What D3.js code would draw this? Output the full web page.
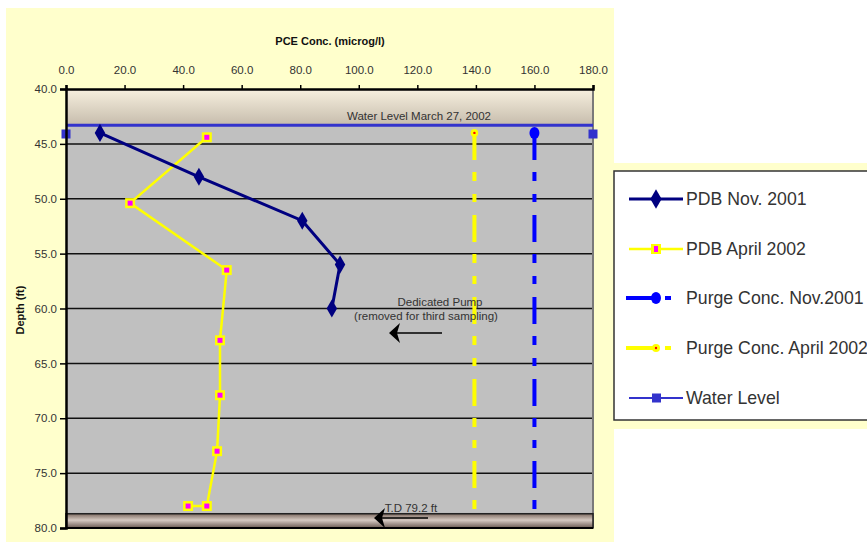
<!DOCTYPE html>
<html lang="en">
  <head>
    <meta charset="UTF-8">
    <script src="https://d3js.org/d3.v7.min.js"></script>
    <style>
      html,body{
        width:100%;
        height:100%;
        margin: 0px;
        background:#fff;
      }
      svg{display:block;}
      .narrow{font-family:"Liberation Sans Narrow","Arial Narrow","Liberation Sans",Arial,sans-serif;}
    </style>
  </head>
  <body>
    <svg id="chart" width="867" height="542"></svg>
  </body>
</html>
<script>
// PDB Nov. 2001
var depthNov = [44.0, 48.0, 52.0, 56.0, 60.0];
var pdbNov = [11.6, 45.4, 80.7, 93.6, 90.8];
// PDB April 2002
var depthApr = [44.4, 50.4, 56.5, 62.9, 67.9, 73.0, 78.0, 78.0];
var pdbApr = [48.1, 21.9, 54.9, 52.6, 52.6, 51.6, 48.1, 41.7];
// purge samples (one value, drawn down the well)
var purgeDepth = [44.0, 79.2];
var purgeNov = [160.0, 160.0];
var purgeApr = [139.5, 139.5];
// water level series
var waterX = [0.0, 180.0];
var waterDepth = [44.1, 44.1];
var waterLevelLine = 43.3;   // March 27, 2002
var tdTop = 78.7;

var xTicks = [0, 20, 40, 60, 80, 100, 120, 140, 160, 180];
var yTicks = [40, 45, 50, 55, 60, 65, 70, 75, 80];
var legendLabels = ["PDB Nov. 2001", "PDB April 2002", "Purge Conc. Nov.2001", "Purge Conc. April 2002", "Water Level"];

var svg = d3.select("#chart");
var x = d3.scaleLinear().domain([0, 180]).range([66, 593]);
var y = d3.scaleLinear().domain([40, 80]).range([89, 528]);

var dashPurge = "27,12,9,13,8,13";

// chart area background
svg.append("rect").attr("x", 6).attr("y", 8).attr("width", 608).attr("height", 534).attr("fill", "#ffffcc");
svg.append("rect").attr("x", 614).attr("y", 163).attr("width", 253).attr("height", 266).attr("fill", "#ffffcc");

var defs = svg.append("defs");
var g1 = defs.append("linearGradient").attr("id", "topband").attr("x1", 0).attr("y1", 0).attr("x2", 0).attr("y2", 1);
g1.append("stop").attr("offset", "0%").attr("stop-color", "#f7f0df");
g1.append("stop").attr("offset", "100%").attr("stop-color", "#c6bcac");
var g2 = defs.append("linearGradient").attr("id", "botband").attr("x1", 0).attr("y1", 0).attr("x2", 0).attr("y2", 1);
g2.append("stop").attr("offset", "0%").attr("stop-color", "#7d6a60");
g2.append("stop").attr("offset", "45%").attr("stop-color", "#d6cac2");
g2.append("stop").attr("offset", "100%").attr("stop-color", "#6b5a52");

// plot area
svg.append("rect").attr("x", x(0)).attr("y", y(40)).attr("width", x(180) - x(0)).attr("height", y(80) - y(40)).attr("fill", "#c0c0c0");
svg.append("rect").attr("x", x(0)).attr("y", y(40)).attr("width", x(180) - x(0)).attr("height", y(waterLevelLine) - y(40)).attr("fill", "url(#topband)");

// gridlines
svg.selectAll(".grid").data(yTicks.slice(1, -1)).enter().append("line")
  .attr("x1", x(0)).attr("x2", x(180)).attr("y1", function(d){return y(d);}).attr("y2", function(d){return y(d);})
  .attr("stroke", "#111").attr("stroke-width", 1.5);

// right border
svg.append("line").attr("x1", x(180)).attr("x2", x(180)).attr("y1", y(40)).attr("y2", y(80)).attr("stroke", "#7a7a7a").attr("stroke-width", 2);

// water level line
svg.append("line").attr("x1", x(0)).attr("x2", x(180)).attr("y1", y(waterLevelLine)).attr("y2", y(waterLevelLine))
  .attr("stroke", "#3333cc").attr("stroke-width", 3);
svg.append("text").attr("class", "narrow").attr("x", 419).attr("y", 120).attr("text-anchor", "middle")
  .attr("font-size", 11.5).attr("fill", "#333").text("Water Level March 27, 2002");

var line = d3.line().x(function(d){return x(d[0]);}).y(function(d){return y(d[1]);});

// purge lines
var pNov = d3.zip(purgeNov, purgeDepth), pApr = d3.zip(purgeApr, purgeDepth);
svg.append("path").attr("d", line(pApr)).attr("fill", "none").attr("stroke", "#ffff00").attr("stroke-width", 4).attr("stroke-dasharray", dashPurge);
svg.append("path").attr("d", line(pNov)).attr("fill", "none").attr("stroke", "#0000ff").attr("stroke-width", 4).attr("stroke-dasharray", dashPurge);
svg.selectAll(".pAprM").data(pApr).enter().append("circle")
  .attr("cx", function(d){return x(d[0]);}).attr("cy", function(d){return y(d[1]);}).attr("r", 3.8).attr("fill", "#ffff00");
svg.selectAll(".pAprD").data(pApr).enter().append("circle")
  .attr("cx", function(d){return x(d[0]);}).attr("cy", function(d){return y(d[1]);}).attr("r", 1.2).attr("fill", "#ff0000");
svg.selectAll(".pNovM").data(pNov).enter().append("ellipse")
  .attr("cx", function(d){return x(d[0]);}).attr("cy", function(d){return y(d[1]);}).attr("rx", 5).attr("ry", 6).attr("fill", "#0000ff");

// PDB April 2002
var apr = d3.zip(pdbApr, depthApr);
svg.append("path").attr("d", line(apr)).attr("fill", "none").attr("stroke", "#ffff00").attr("stroke-width", 2.5);
svg.selectAll(".aprM").data(apr).enter().append("rect")
  .attr("x", function(d){return x(d[0]) - 5;}).attr("y", function(d){return y(d[1]) - 5;})
  .attr("width", 10).attr("height", 10).attr("fill", "#ffff00");
svg.selectAll(".aprC").data(apr).enter().append("rect")
  .attr("x", function(d){return x(d[0]) - 2.5;}).attr("y", function(d){return y(d[1]) - 2.5;})
  .attr("width", 5).attr("height", 5).attr("fill", "#ff00ff");

// PDB Nov. 2001
var nov = d3.zip(pdbNov, depthNov);
svg.append("path").attr("d", line(nov)).attr("fill", "none").attr("stroke", "#000080").attr("stroke-width", 3);
svg.selectAll(".novM").data(nov).enter().append("path")
  .attr("d", d3.symbol().type(d3.symbolDiamond).size(95))
  .attr("transform", function(d){return "translate(" + x(d[0]) + "," + y(d[1]) + ")";})
  .attr("fill", "#000080");

// water level markers
var wl = d3.zip(waterX, waterDepth);
svg.selectAll(".wlM").data(wl).enter().append("rect")
  .attr("x", function(d){return x(d[0]) - 4.5;}).attr("y", function(d){return y(d[1]) - 4.5;})
  .attr("width", 9).attr("height", 9).attr("fill", "#3333cc");

// total depth band
svg.append("rect").attr("x", x(0)).attr("y", y(tdTop)).attr("width", x(180) - x(0)).attr("height", y(80) - y(tdTop))
  .attr("fill", "url(#botband)").attr("stroke", "#222").attr("stroke-width", 1.5);

// axes
var xAxis = d3.axisTop(x).tickValues(xTicks).tickSize(4).tickPadding(11).tickFormat(d3.format(".1f"));
var gx = svg.append("g").attr("transform", "translate(0," + y(40) + ")").call(xAxis);
var yAxis = d3.axisLeft(y).tickValues(yTicks).tickSize(6).tickPadding(3).tickFormat(d3.format(".1f"));
var gy = svg.append("g").attr("transform", "translate(" + x(0) + ",0)").call(yAxis);
[gx, gy].forEach(function(g){
  g.select(".domain").attr("stroke", "#000").attr("stroke-width", 2.5);
  g.selectAll(".tick line").attr("stroke", "#000").attr("stroke-width", 1.5);
  g.selectAll(".tick text").attr("class", "narrow").attr("font-size", 11.5).attr("fill", "#333");
});
svg.append("line").attr("x1", x(0)).attr("x2", x(180)).attr("y1", y(80)).attr("y2", y(80)).attr("stroke", "#000").attr("stroke-width", 2);

// axis titles
svg.append("text").attr("x", 330).attr("y", 45).attr("text-anchor", "middle").attr("font-family", "Liberation Sans, Arial, sans-serif")
  .attr("font-weight", "bold").attr("font-size", 11).attr("fill", "#111").text("PCE Conc. (microg/l)");
svg.append("text").attr("transform", "translate(24,310) rotate(-90)").attr("text-anchor", "middle").attr("font-family", "Liberation Sans, Arial, sans-serif")
  .attr("font-weight", "bold").attr("font-size", 11).attr("fill", "#111").text("Depth (ft)");

// annotations
function arrow(x1, x2, yy) {
  svg.append("line").attr("x1", x1).attr("x2", x2 + 6).attr("y1", yy).attr("y2", yy).attr("stroke", "#000").attr("stroke-width", 1.5);
  svg.append("path").attr("d", "M" + x2 + "," + yy + " L" + (x2 + 11) + "," + (yy - 10) + " L" + (x2 + 8) + "," + yy + " L" + (x2 + 11) + "," + (yy + 10) + " Z")
    .attr("fill", "#000");
}
svg.append("text").attr("class", "narrow").attr("x", 440).attr("y", 306).attr("text-anchor", "middle").attr("font-size", 11.5).attr("fill", "#333").text("Dedicated Pump");
svg.append("text").attr("class", "narrow").attr("x", 426).attr("y", 320).attr("text-anchor", "middle").attr("font-size", 11.5).attr("fill", "#333").text("(removed for third sampling)");
arrow(442, 389, 333);
svg.append("text").attr("class", "narrow").attr("x", 411).attr("y", 512).attr("text-anchor", "middle").attr("font-size", 11.5).attr("fill", "#333").text("T.D 79.2 ft");
arrow(428, 374, 518);

// legend
svg.append("rect").attr("x", 614).attr("y", 171).attr("width", 270).attr("height", 249).attr("fill", "#fff").attr("stroke", "#333").attr("stroke-width", 1.5);
var legY = [199, 249, 298, 348, 398];
var lg = svg.append("g");
// 0 PDB Nov
lg.append("line").attr("x1", 629).attr("x2", 683).attr("y1", legY[0]).attr("y2", legY[0]).attr("stroke", "#000080").attr("stroke-width", 3);
lg.append("path").attr("d", d3.symbol().type(d3.symbolDiamond).size(110)).attr("transform", "translate(656," + legY[0] + ")").attr("fill", "#000080");
// 1 PDB April
lg.append("line").attr("x1", 629).attr("x2", 683).attr("y1", legY[1]).attr("y2", legY[1]).attr("stroke", "#ffff00").attr("stroke-width", 2.5);
lg.append("rect").attr("x", 651).attr("y", legY[1] - 5).attr("width", 10).attr("height", 10).attr("fill", "#ffff00");
lg.append("rect").attr("x", 654).attr("y", legY[1] - 3).attr("width", 4).attr("height", 6).attr("fill", "#ff00ff");
// 2 Purge Nov
lg.append("line").attr("x1", 626).attr("x2", 672).attr("y1", legY[2]).attr("y2", legY[2]).attr("stroke", "#0000ff").attr("stroke-width", 4).attr("stroke-dasharray", "31,8,6,20");
lg.append("ellipse").attr("cx", 656).attr("cy", legY[2]).attr("rx", 5).attr("ry", 6).attr("fill", "#0000ff");
// 3 Purge April
lg.append("line").attr("x1", 626).attr("x2", 672).attr("y1", legY[3]).attr("y2", legY[3]).attr("stroke", "#ffff00").attr("stroke-width", 4).attr("stroke-dasharray", "31,8,6,20");
lg.append("circle").attr("cx", 656).attr("cy", legY[3]).attr("r", 4).attr("fill", "#ffff00");
lg.append("circle").attr("cx", 656).attr("cy", legY[3]).attr("r", 1.2).attr("fill", "#ff0000");
// 4 Water level
lg.append("line").attr("x1", 629).attr("x2", 683).attr("y1", legY[4]).attr("y2", legY[4]).attr("stroke", "#3333cc").attr("stroke-width", 2);
lg.append("rect").attr("x", 652).attr("y", legY[4] - 4.5).attr("width", 9).attr("height", 9).attr("fill", "#3333cc");

lg.selectAll(".lt").data(legendLabels).enter().append("text")
  .attr("x", 686).attr("y", function(d, i){return legY[i] + 6;})
  .attr("font-family", "Liberation Sans, Arial, sans-serif").attr("font-size", 17.7).attr("fill", "#333")
  .text(function(d){return d;});
</script>
